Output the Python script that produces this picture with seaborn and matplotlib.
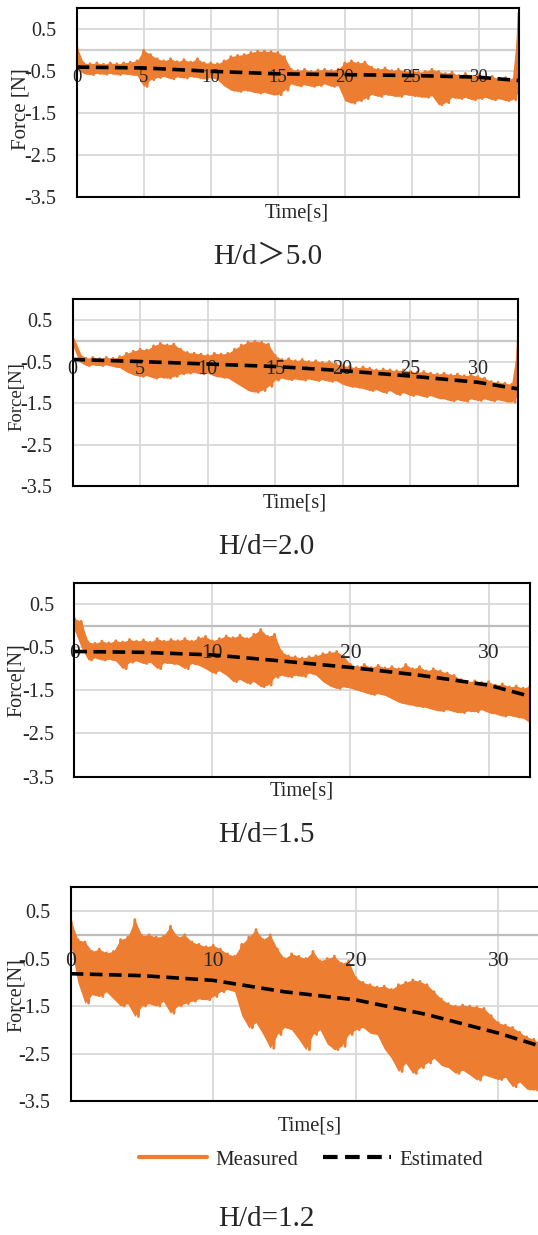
import numpy as np
import pandas as pd
import seaborn as sns
import matplotlib.pyplot as plt

# Measured force is a dense oscillation: its upper and lower peaks were read
# off the picture every 0.5 s. The estimate is a smooth dashed curve.

ORANGE = '#ED7D31'
W, H = 538, 1235

env_time = np.arange(0, 33.01, 0.5)

p1_upper = [0.1, -0.3, -0.32, -0.3, -0.33, -0.3, -0.32, -0.3, -0.28, -0.25,
            0.0, -0.1, -0.2, -0.25, -0.2, -0.27, -0.22, -0.28, -0.2, -0.3,
            -0.3, -0.32, -0.25, -0.15, -0.12, -0.1, -0.05, -0.02, -0.02, -0.03,
            -0.05, -0.15, -0.45, -0.48, -0.45, -0.5, -0.47, -0.45, -0.48, -0.45,
            -0.3, -0.25, -0.3, -0.28, -0.4, -0.45, -0.42, -0.48, -0.45, -0.5,
            -0.48, -0.52, -0.5, -0.45, -0.5, -0.55, -0.52, -0.6, -0.55, -0.62,
            -0.58, -0.65, -0.62, -0.68, -0.65, -0.7, 0.9]
p1_lower = [-0.45, -0.55, -0.58, -0.55, -0.57, -0.55, -0.58, -0.56, -0.58, -0.6,
            -0.86, -0.7, -0.65, -0.62, -0.68, -0.63, -0.66, -0.62, -0.65, -0.68,
            -0.64, -0.7, -0.85, -0.95, -0.98, -0.95, -0.98, -1.02, -1.0, -1.05,
            -1.06, -0.95, -0.8, -0.85, -0.82, -0.86, -0.84, -0.8, -0.86, -0.84,
            -1.2, -1.26, -1.2, -1.15, -1.05, -1.1, -1.05, -1.08, -1.1, -1.05,
            -1.08, -1.1, -1.12, -1.08, -1.3, -1.25, -1.12, -1.15, -1.12, -1.18,
            -1.15, -1.12, -1.18, -1.15, -1.2, -1.18, -1.0]

p2_upper = [0.07, -0.3, -0.42, -0.4, -0.43, -0.4, -0.42, -0.38, -0.3, -0.25,
            -0.2, -0.22, -0.12, -0.06, -0.1, -0.08, -0.2, -0.28, -0.3, -0.32,
            -0.35, -0.3, -0.32, -0.3, -0.2, -0.1, -0.03, -0.01, -0.03, -0.08,
            -0.35, -0.45, -0.43, -0.48, -0.45, -0.5, -0.48, -0.52, -0.5, -0.55,
            -0.6, -0.62, -0.65, -0.63, -0.66, -0.7, -0.68, -0.7, -0.72, -0.7,
            -0.74, -0.76, -0.74, -0.78, -0.8, -0.78, -0.82, -0.8, -0.84, -0.82,
            -0.86, -0.9, -0.98, -1.0, -1.02, -1.05, 0.0]
p2_lower = [-0.1, -0.5, -0.6, -0.58, -0.6, -0.58, -0.62, -0.65, -0.75, -0.82,
            -0.86, -0.84, -0.9, -0.88, -0.9, -0.86, -0.8, -0.78, -0.76, -0.8,
            -0.78, -0.85, -0.88, -0.9, -1.0, -1.1, -1.2, -1.24, -1.2, -1.1,
            -0.95, -0.9, -0.94, -0.92, -0.95, -0.92, -0.96, -0.94, -0.98, -0.96,
            -1.05, -1.1, -1.12, -1.15, -1.2, -1.18, -1.25, -1.2, -1.3, -1.25,
            -1.32, -1.3, -1.35, -1.32, -1.38, -1.4, -1.45, -1.42, -1.46, -1.4,
            -1.44, -1.4, -1.45, -1.42, -1.46, -1.48, -1.3]

p3_upper = [0.17, 0.1, -0.38, -0.41, -0.36, -0.4, -0.35, -0.38, -0.32, -0.36,
            -0.33, -0.38, -0.3, -0.36, -0.32, -0.35, -0.3, -0.36, -0.28, -0.25,
            -0.35, -0.3, -0.24, -0.28, -0.22, -0.3, -0.2, -0.09, -0.25, -0.2,
            -0.6, -0.7, -0.72, -0.75, -0.72, -0.7, -0.65, -0.62, -0.6, -0.7,
            -0.9, -0.95, -0.9, -0.97, -0.92, -0.98, -0.95, -1.0, -0.9, -1.0,
            -0.95, -1.05, -1.0, -1.05, -1.1, -1.15, -1.25, -1.3, -1.28, -1.32,
            -1.3, -1.38, -1.35, -1.42, -1.4, -1.45, -1.4]
p3_lower = [-0.1, -0.5, -0.8, -0.75, -0.8, -0.78, -0.82, -1.0, -0.85, -0.82,
            -0.88, -0.85, -1.0, -0.86, -0.88, -0.9, -1.0, -0.88, -0.92, -1.0,
            -1.1, -1.05, -1.15, -1.3, -1.25, -1.34, -1.3, -1.42, -1.38, -1.2,
            -1.15, -1.19, -1.15, -1.18, -1.1, -1.15, -1.3, -1.4, -1.46, -1.42,
            -1.45, -1.5, -1.55, -1.6, -1.58, -1.62, -1.7, -1.78, -1.82, -1.85,
            -1.88, -1.9, -1.95, -1.98, -1.95, -2.0, -2.02, -1.98, -2.0, -1.95,
            -2.02, -2.05, -2.1, -2.08, -2.12, -2.15, -2.25]

p4_upper = [0.32, -0.1, -0.15, -0.35, -0.3, -0.38, -0.35, -0.1, -0.05, 0.32,
            -0.02, 0.0, -0.05, -0.03, 0.18, -0.05, 0.0, -0.15, -0.2, -0.25,
            -0.22, -0.3, -0.4, -0.45, -0.2, -0.05, 0.11, -0.1, 0.0, -0.3,
            -0.5, -0.4, -0.45, -0.5, -0.35, -0.55, -0.5, -0.45, -0.6, -0.55,
            -0.9, -1.0, -1.05, -1.1, -1.08, -1.15, -1.05, -1.0, -0.95, -0.98,
            -1.05, -1.2, -1.35, -1.45, -1.5, -1.48, -1.5, -1.52, -1.55, -1.7,
            -1.85, -1.9, -1.95, -2.05, -2.15, -2.2, -2.3]
p4_lower = [-0.2, -1.0, -1.44, -1.26, -1.3, -1.2, -1.35, -1.5, -1.45, -1.72,
            -1.5, -1.45, -1.5, -1.4, -1.65, -1.5, -1.45, -1.4, -1.35, -1.37,
            -1.3, -1.2, -1.15, -1.2, -1.7, -1.96, -1.85, -2.1, -2.39, -2.1,
            -1.95, -2.0, -2.2, -2.42, -2.1, -2.0, -2.3, -2.42, -2.35, -2.1,
            -2.0, -1.95, -2.07, -2.1, -2.4, -2.6, -2.88, -2.7, -2.92, -2.8,
            -2.7, -2.6, -2.75, -2.8, -2.92, -2.85, -2.95, -3.06, -2.95, -3.0,
            -3.05, -3.0, -3.2, -3.1, -3.25, -3.27, -3.2]

est_time = [0, 5, 10, 15, 20, 25, 30, 33]
p1_est = [-0.4, -0.42, -0.5, -0.56, -0.58, -0.6, -0.64, -0.72]
p2_est = [-0.45, -0.5, -0.56, -0.62, -0.72, -0.85, -1.0, -1.16]
p3_est = [-0.6, -0.62, -0.68, -0.82, -0.97, -1.15, -1.38, -1.64]
p4_est = [-0.82, -0.86, -0.96, -1.2, -1.37, -1.68, -2.07, -2.35]

y_ticks = [0.5, -0.5, -1.5, -2.5, -3.5]
y_tick_labels = ['0.5', '-0.5', '-1.5', '-2.5', '-3.5']
x_ticks_fine = [0, 5, 10, 15, 20, 25, 30]
x_ticks_coarse = [0, 10, 20, 30]
y_labels = ['Force [N]', 'Force[N]', 'Force[N]', 'Force[N]']
captions = ['H/d\uff1e5.0', 'H/d=2.0', 'H/d=1.5', 'H/d=1.2']

# layout in pixels: axes box (left, top, right, bottom), label centres
boxes = [(76.7, 8.3, 519, 197.3), (72.5, 299.3, 518.3, 486),
         (74.3, 582.5, 530, 776.5), (70.7, 887.3, 541, 1101)]
ylabel_pos = [(20.5, 109), (16.6, 397), (16.6, 680), (16.6, 995)]
xlabel_pos = [(297, 213), (295, 503), (302, 791), (310, 1126)]
caption_pos = [(268, 257), (266, 547), (266, 835), (266, 1219)]
xtick_y = [-0.6, -0.63, -0.59, -0.52]
xtick_size = [13.5, 14.5, 15.5, 15.5]
ylabel_size = [15, 13.5, 14.5, 14.5]
zero_color = ['#d0d0d0', '#c8c8c8', '#bdbdbd', '#bdbdbd']


def zigzag(upper, lower, label=None):
    """
    Joins the upper and lower peaks into one oscillating line
    """
    t = np.empty(2 * len(env_time))
    v = np.empty(2 * len(env_time))
    t[0::2] = env_time
    t[1::2] = env_time + 0.25
    v[0::2] = upper
    v[1::2] = lower
    return pd.DataFrame({'Time': t, 'Force': v})


def draw_panel(fig, i, upper, lower, est, xticks):
    left, top, right, bottom = boxes[i]
    ax = fig.add_axes([left / W, 1 - bottom / H, (right - left) / W,
                       (bottom - top) / H])
    ax.set_xlim(0, 33)
    ax.set_ylim(-3.5, 1.0)
    ax.set_yticks(y_ticks)
    ax.set_yticklabels(y_tick_labels, fontsize=14.5)
    ax.set_xticks(xticks)
    ax.set_xticklabels([])
    ax.tick_params(axis='both', length=0)
    ax.tick_params(axis='y', pad=14.5)
    ax.grid(True, color='#d9d9d9', lw=1.3)
    ax.set_axisbelow(True)
    ax.axhline(0, color=zero_color[i], lw=1.6, zorder=1)
    for s in ax.spines.values():
        s.set_color('black')
        s.set_linewidth(1.5)
        s.set_zorder(5)

    lab = i == 3
    ax.fill_between(env_time, lower, upper, color=ORANGE, lw=0, zorder=2)
    sns.lineplot(data=zigzag(upper, lower), x='Time', y='Force', sort=False,
                 estimator=None, color=ORANGE, lw=2, ax=ax, zorder=2,
                 label='Measured' if lab else None)
    for t in xticks:
        ax.text(t, xtick_y[i], str(t), ha='center', va='center_baseline',
                fontsize=xtick_size[i], zorder=3)
    sns.lineplot(x=est_time, y=est, color='black', lw=2.6,
                 linestyle=(0, (3.5, 1.8)), ax=ax, zorder=4,
                 label='Estimated' if lab else None)

    ax.set_ylabel(y_labels[i], fontsize=ylabel_size[i])
    ax.yaxis.label.set_va('center')
    xc, yc = ylabel_pos[i]
    ax.yaxis.set_label_coords((xc - left) / (right - left),
                              (bottom - yc) / (bottom - top))
    ax.set_xlabel('Time[s]', fontsize=14.8)
    ax.xaxis.label.set_va('center')
    xc, yc = xlabel_pos[i]
    ax.xaxis.set_label_coords((xc - left) / (right - left),
                              (bottom - yc) / (bottom - top))
    cx, cy = caption_pos[i]
    fig.text(cx / W, 1 - cy / H, captions[i], ha='center', va='center',
             fontsize=21, family=['Liberation Serif', 'Noto Sans CJK JP'])
    return ax


def main():
    sns.set_style('white')
    plt.rcParams['font.family'] = ['Liberation Serif', 'Noto Sans CJK JP']
    plt.rcParams['axes.unicode_minus'] = False
    fig = plt.figure(figsize=(W / 100, H / 100), dpi=100)

    draw_panel(fig, 0, p1_upper, p1_lower, p1_est, x_ticks_fine)
    draw_panel(fig, 1, p2_upper, p2_lower, p2_est, x_ticks_fine)
    draw_panel(fig, 2, p3_upper, p3_lower, p3_est, x_ticks_coarse)
    ax = draw_panel(fig, 3, p4_upper, p4_lower, p4_est, x_ticks_coarse)

    handles, labels = ax.get_legend_handles_labels()
    ax.get_legend().remove()
    leg = fig.legend(handles, labels, loc='center', ncol=2, frameon=False,
                     bbox_to_anchor=(311 / W, 1 - 1160 / H), fontsize=15,
                     handlelength=3.3, handletextpad=0.4, columnspacing=1.15)
    for line in leg.get_lines():
        line.set_linewidth(3)

    fig.savefig('out.png', dpi=100)


if __name__ == '__main__':
    main()
